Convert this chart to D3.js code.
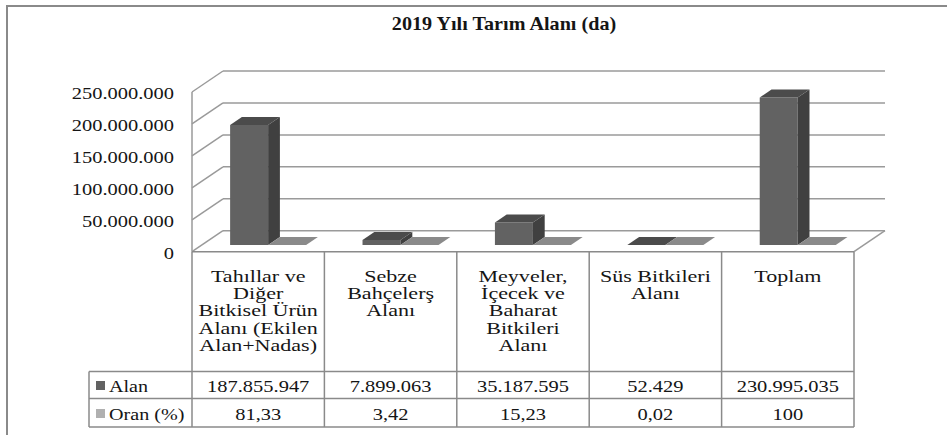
<!DOCTYPE html>
<html>
<head>
<meta charset="utf-8">
<script src="https://cdn.jsdelivr.net/npm/d3@7"></script>
<style>
  body { margin: 0; background: #fff; }
  svg { display: block; }
  text { font-family: "Liberation Serif", "Times New Roman", serif; fill: #151515; }
</style>
</head>
<body>
<div id="chart"></div>
<script>
// chart data
const categories = [
  ["Tahıllar ve", "Diğer", "Bitkisel Ürün", "Alanı (Ekilen", "Alan+Nadas)"],
  ["Sebze", "Bahçelerş", "Alanı"],
  ["Meyveler,", "İçecek ve", "Baharat", "Bitkileri", "Alanı"],
  ["Süs Bitkileri", "Alanı"],
  ["Toplam"]
];
const seriesNames = ["Alan", "Oran (%)"];
const alan = [187855947, 7899063, 35187595, 52429, 230995035];
const oran = [81.33, 3.42, 15.23, 0.02, 100];
const yTicks = [0, 50000000, 100000000, 150000000, 200000000, 250000000];
const title = "2019 Yılı Tarım Alanı (da)";

const W = 947, H = 435;
const svg = d3.select("#chart").append("svg").attr("width", W).attr("height", H);

const tr = d3.formatLocale({decimal: ",", thousands: ".", grouping: [3], currency: ["", ""]});
const fmtInt = tr.format(",d");
const fmtDec = tr.format(",.2f");
const fmtVal = v => Number.isInteger(v) ? fmtInt(v) : fmtDec(v);

// plot geometry (front plane) + depth offset
var left = 192, right = 854, floorY = 251.7, topY = 92;
var depthX = 31, depthY = -21;

var x = d3.scaleBand().domain(d3.range(categories.length)).range([left, right]);
var y = d3.scaleLinear().domain([0, 250000000]).range([floorY, topY]);
var barW = 38, d0 = 0.32, d1 = 0.70;

function P(px, py, d) { return [px + depthX * d, py + depthY * d]; }
function poly(pts) { return pts.map(p => p.join(",")).join(" "); }

// text in the original looks stretched sideways, so scale it around its anchor
function label(g, tx, ty, txt, size, anchor, sx, weight) {
  return g.append("text")
    .attr("transform", "translate(" + tx + "," + ty + ") scale(" + sx + ",1)")
    .attr("text-anchor", anchor)
    .attr("font-size", size)
    .attr("font-weight", weight || "normal")
    .text(txt);
}

// outer frame
svg.append("rect")
  .attr("x", 7).attr("y", 6).attr("width", 980).attr("height", 460)
  .attr("fill", "none").attr("stroke", "#8a8a8a").attr("stroke-width", 2);

label(svg, 504, 30, title, 18, "middle", 1.12, "bold");

var grid = svg.append("g").attr("stroke", "#9a9a9a").attr("stroke-width", 1.5).attr("fill", "none");

// back wall gridlines + left wall diagonals
yTicks.forEach(function (t) {
  var a = P(left, y(t), 1), b = P(right, y(t), 1);
  grid.append("line").attr("x1", a[0]).attr("y1", a[1]).attr("x2", b[0]).attr("y2", b[1]);
  grid.append("line").attr("x1", left).attr("y1", y(t)).attr("x2", a[0]).attr("y2", a[1]);
});
grid.append("line").attr("x1", left).attr("y1", y(250000000)).attr("x2", left).attr("y2", floorY);
var fr = P(right, floorY, 1);
grid.append("line").attr("x1", right).attr("y1", floorY).attr("x2", fr[0]).attr("y2", fr[1]);

// y labels
var yAxis = svg.append("g");
yTicks.forEach(function (t) {
  label(yAxis, 174, y(t) + 7, fmtInt(t), 17.5, "end", 1.17);
});

// 3D bars
var colors = [
  {front: "#626262", top: "#4b4b4b", side: "#404040"},
  {front: "#aaaaaa", top: "#8a8a8a", side: "#777777"}
];
var bars = svg.append("g");
[alan, oran].forEach(function (vals, s) {
  vals.forEach(function (v, i) {
    var cx = x(i) + x.bandwidth() / 2;
    var x0 = cx - barW + s * barW, x1 = x0 + barW;
    var yb = y(0), yt = y(v);
    var c = colors[s];
    // front
    bars.append("polygon").attr("fill", c.front)
      .attr("points", poly([P(x0, yt, d0), P(x1, yt, d0), P(x1, yb, d0), P(x0, yb, d0)]));
    // side
    bars.append("polygon").attr("fill", c.side)
      .attr("points", poly([P(x1, yt, d0), P(x1, yt, d1), P(x1, yb, d1), P(x1, yb, d0)]));
    // top
    bars.append("polygon").attr("fill", c.top)
      .attr("points", poly([P(x0, yt, d0), P(x1, yt, d0), P(x1, yt, d1), P(x0, yt, d1)]));
  });
});

// data table
var tbl = svg.append("g");
var tStroke = "#8a8a8a";
var headBottom = 371.5, row1Bottom = 398.5, row2Bottom = 427, keyLeft = 89;
function hline(x1, x2, yy) {
  tbl.append("line").attr("x1", x1).attr("x2", x2).attr("y1", yy).attr("y2", yy)
    .attr("stroke", tStroke).attr("stroke-width", 1.5);
}
function vline(xx, y1, y2) {
  tbl.append("line").attr("x1", xx).attr("x2", xx).attr("y1", y1).attr("y2", y2)
    .attr("stroke", tStroke).attr("stroke-width", 1.5);
}
hline(left, right, floorY);
hline(keyLeft, right, headBottom);
hline(keyLeft, right, row1Bottom);
hline(keyLeft, right, row2Bottom);
vline(keyLeft, headBottom, row2Bottom);
d3.range(categories.length + 1).forEach(function (i) {
  var xx = i < categories.length ? x(i) : right;
  vline(xx, floorY, row2Bottom);
});

categories.forEach(function (lines, i) {
  var cx = x(i) + x.bandwidth() / 2;
  // wrapped header cell: one text, a tspan per line
  var head = label(tbl, cx, 282, "", 17.5, "middle", 1.26);
  head.selectAll("tspan")
    .data(lines)
    .enter()
    .append("tspan")
    .attr("x", 0)
    .attr("dy", (d, k) => k === 0 ? 0 : 17.2)
    .text(d => d);
  label(tbl, cx, 392, fmtVal(alan[i]), 17.5, "middle", 1.17);
  label(tbl, cx, 420, fmtVal(oran[i]), 17.5, "middle", 1.17);
});

// row legend keys
seriesNames.forEach(function (name, s) {
  var ry = s === 0 ? 381 : 409;
  tbl.append("rect").attr("x", 96).attr("y", ry).attr("width", 9).attr("height", 9)
    .attr("fill", s === 0 ? "#626262" : "#b0b0b0");
  label(tbl, 109, ry + 11, name, 17.5, "start", 1.15);
});
</script>
</body>
</html>
